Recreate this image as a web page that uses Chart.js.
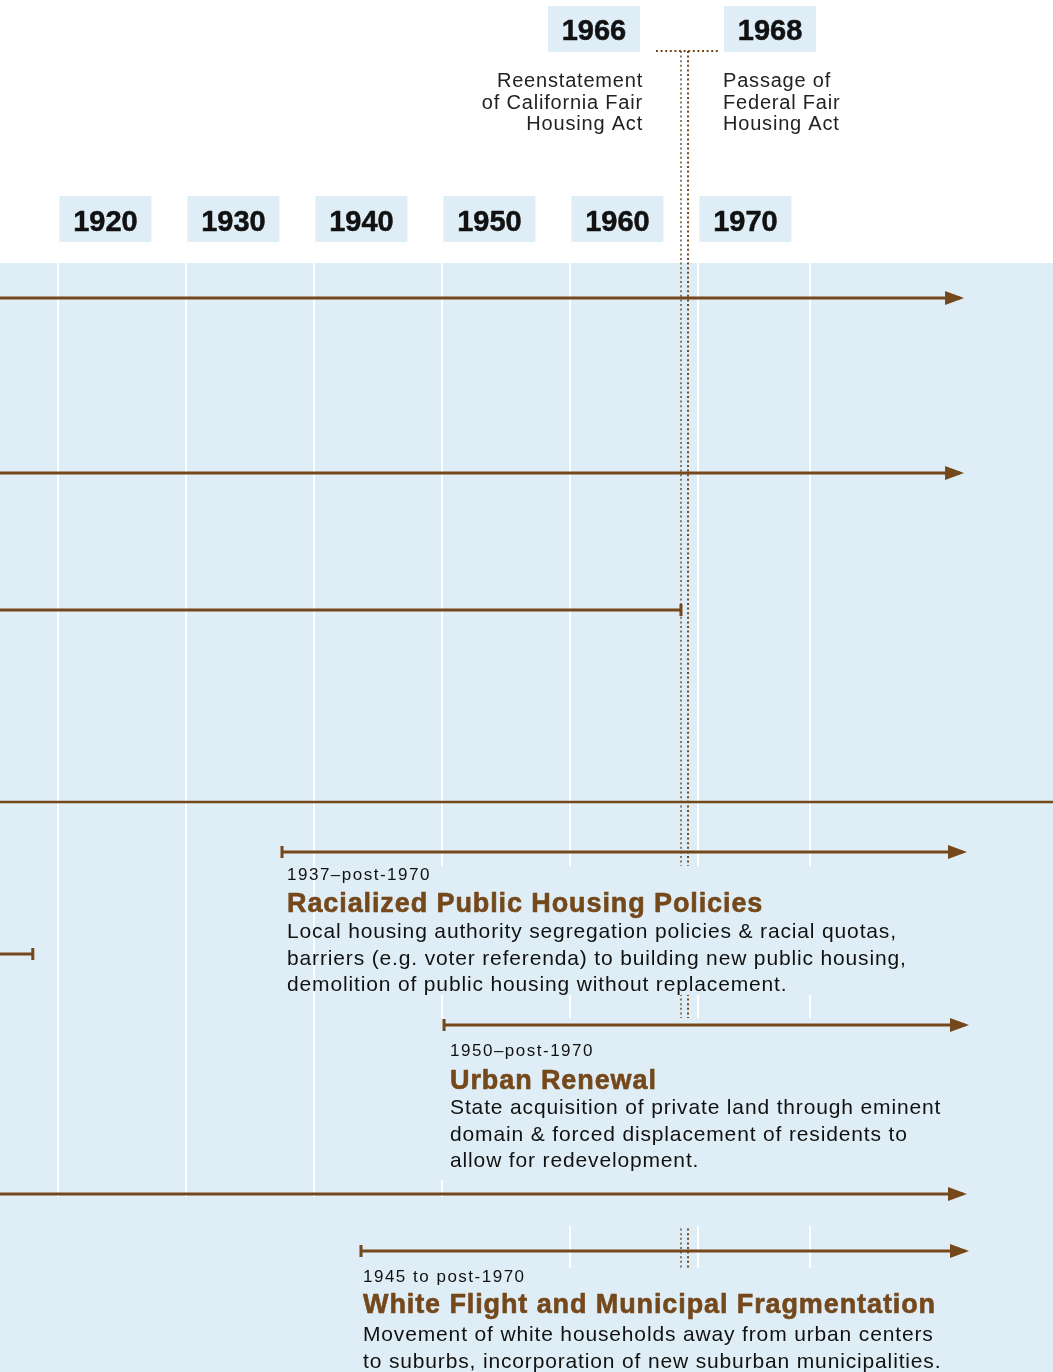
<!DOCTYPE html>
<html><head><meta charset="utf-8">
<script src="https://cdn.jsdelivr.net/npm/chart.js@4.4.1/dist/chart.umd.min.js"></script>
<style>html,body{margin:0;padding:0;background:#fff;}#wrap{width:1053px;height:1372px;}</style>
</head><body><div id="wrap"><canvas id="c" width="1053" height="1372"></canvas></div>
<script>
// ---------------- DATA ----------------
const gridYears = [1920, 1930, 1940, 1950, 1960, 1970, 1978.7];
const decadeYears = [1920, 1930, 1940, 1950, 1960, 1970];
const decadeLabels = ['1920', '1930', '1940', '1950', '1960', '1970'];

const eventLabels = ['1966', '1968'];
const eventPositions = [1968.64, 1969.19];
const eventTexts = [
  ['Reenstatement', 'of California Fair', 'Housing Act'],
  ['Passage of', 'Federal Fair', 'Housing Act']
];

// timeline bars (row = vertical position on the sheet)
const barRows   = [298, 473, 610, 802, 852, 954, 1025, 1194, 1251];
const barStarts = [1900, 1900, 1900, 1900, 1937.47, 1900, 1950.13, 1900, 1943.64];
const barEnds   = [1990.44, 1990.44, 1968.64, 2010, 1990.67, 1918.0, 1990.83, 1990.67, 1990.83];
const barStartCaps = ['none', 'none', 'none', 'none', 'bar', 'none', 'bar', 'none', 'bar'];
const barEndCaps   = ['arrow', 'arrow', 'bar', 'none', 'arrow', 'bar', 'arrow', 'arrow', 'arrow'];

const policyBar = [4, 6, 8];
const policyDates = ['1937\u2013post-1970', '1950\u2013post-1970', '1945 to post-1970'];
const policyTitles = ['Racialized Public Housing Policies', 'Urban Renewal', 'White Flight and Municipal Fragmentation'];
const policyBodies = [
  ['Local housing authority segregation policies & racial quotas,',
   'barriers (e.g. voter referenda) to building new public housing,',
   'demolition of public housing without replacement.'],
  ['State acquisition of private land through eminent',
   'domain & forced displacement of residents to',
   'allow for redevelopment.'],
  ['Movement of white households away from urban centers',
   'to suburbs, incorporation of new suburban municipalities.']
];

// ---------------- STYLE / LAYOUT ----------------
const BROWN = '#74481b';
const BLUE = '#dfeef6';
const INK = '#111111';
const X_MIN = 1915.4375, X_MAX = 1997.703;
const SHEET_H = 1372;
const bandTop = 263;
const yearBox = {top: 196, h: 46, w: 92, font: 'bold 29px "Liberation Sans", Arial, sans-serif'};
const eventBox = {top: 6, h: 46, w: 92};
const dotTop = 51;
// panels that interrupt grid / dotted lines [x0px, y0, x1px, y1]
const panels = [
  [330, 866, 1053, 995],
  [436, 1018, 1053, 1180],
  [500, 1180, 1053, 1226],
  [0, 1197, 500, 1372],
  [500, 1268, 1053, 1372]
];
const textDx = [5, 6, 2];
const textDy = [[28, 60, 86], [31, 64, 89], [31, 62, 90]];
const bodyLH = 26.6;

function heavyText(ctx, s, x, y, w) {
  ctx.lineWidth = w;
  ctx.strokeStyle = ctx.fillStyle;
  ctx.lineJoin = 'round';
  ctx.strokeText(s, x, y);
  ctx.fillText(s, x, y);
}

function capsPlugin() {
  return {
    id: 'timeline',
    beforeDraw(chart) {
      const {ctx, scales: {y}} = chart;
      ctx.save();
      ctx.fillStyle = '#fff';
      ctx.fillRect(0, 0, chart.width, chart.height);
      ctx.fillStyle = BLUE;
      const t = y.getPixelForValue(bandTop);
      ctx.fillRect(0, t, chart.width, chart.height - t);
      ctx.restore();
    },
    beforeDatasetsDraw(chart) {
      const {ctx, scales: {x, y}} = chart;
      ctx.save();
      const p0 = x.getPixelForValue(eventPositions[0]);
      const p1 = x.getPixelForValue(eventPositions[1]);
      const top = y.getPixelForValue(dotTop);
      ctx.lineWidth = 2;
      ctx.setLineDash([2, 2.6]);
      ctx.strokeStyle = 'rgba(110,80,50,0.75)';
      ctx.beginPath(); ctx.moveTo(p0, top); ctx.lineTo(p0, chart.height); ctx.stroke();
      ctx.strokeStyle = BROWN;
      ctx.beginPath(); ctx.moveTo(p1, top); ctx.lineTo(p1, chart.height); ctx.stroke();
      ctx.beginPath(); ctx.moveTo(p0 - 25, top); ctx.lineTo(p1 + 30, top); ctx.stroke();
      ctx.setLineDash([]);
      ctx.fillStyle = BLUE;
      panels.forEach(([a, b, c, d]) => {
        const yb = y.getPixelForValue(b), yd = y.getPixelForValue(d);
        ctx.fillRect(a, yb, c - a, yd - yb);
      });
      ctx.restore();
    },
    afterDatasetsDraw(chart) {
      const {ctx, scales: {x, y}} = chart;
      ctx.save();
      ctx.fillStyle = BROWN;
      barRows.forEach((r, i) => {
        const py = y.getPixelForValue(r);
        const xs = x.getPixelForValue(barStarts[i]);
        const xe = x.getPixelForValue(barEnds[i]);
        if (barStartCaps[i] === 'bar') ctx.fillRect(xs - 1.5, py - 6, 3, 12);
        if (barEndCaps[i] === 'bar') ctx.fillRect(xe - 1.5, py - 6, 3, 12);
        if (barEndCaps[i] === 'arrow') {
          ctx.beginPath();
          ctx.moveTo(xe + 4, py);
          ctx.lineTo(xe - 15, py - 7);
          ctx.lineTo(xe - 15, py + 7);
          ctx.closePath();
          ctx.fill();
        }
      });
      ctx.textAlign = 'center';
      ctx.textBaseline = 'alphabetic';
      decadeYears.forEach((yr, i) => {
        const px = x.getPixelForValue(yr);
        ctx.fillStyle = BLUE;
        ctx.fillRect(px + 1, yearBox.top, yearBox.w, yearBox.h);
        ctx.fillStyle = INK;
        ctx.font = yearBox.font;
        heavyText(ctx, decadeLabels[i], px + 1 + yearBox.w / 2, yearBox.top + 35, 0.5);
      });
      const ep = eventPositions.map(v => x.getPixelForValue(v));
      const boxLeft = [ep[0] - 41 - eventBox.w, ep[1] + 36];
      eventLabels.forEach((lab, i) => {
        ctx.fillStyle = BLUE;
        ctx.fillRect(boxLeft[i], eventBox.top, eventBox.w, eventBox.h);
        ctx.fillStyle = INK;
        ctx.font = yearBox.font;
        ctx.textAlign = 'center';
        heavyText(ctx, lab, boxLeft[i] + eventBox.w / 2, eventBox.top + 34, 0.5);
        ctx.font = '20px "Liberation Sans", Arial, sans-serif';
        ctx.letterSpacing = '0.8px';
        ctx.fillStyle = '#222';
        ctx.textAlign = i === 0 ? 'right' : 'left';
        const tx = i === 0 ? ep[0] - 38 : ep[1] + 35;
        eventTexts[i].forEach((ln, k) => ctx.fillText(ln, tx, 87 + k * 21.7));
        ctx.letterSpacing = '0px';
      });
      ctx.textAlign = 'left';
      policyBar.forEach((bi, i) => {
        const x0 = x.getPixelForValue(barStarts[bi]) + textDx[i];
        const r = y.getPixelForValue(barRows[bi]);
        ctx.fillStyle = INK;
        ctx.font = '17px "Liberation Sans", Arial, sans-serif';
        ctx.letterSpacing = '1.5px';
        ctx.fillText(policyDates[i], x0, r + textDy[i][0]);
        ctx.fillStyle = BROWN;
        ctx.font = 'bold 27px "Liberation Sans", Arial, sans-serif';
        ctx.letterSpacing = '0.9px';
        heavyText(ctx, policyTitles[i], x0, r + textDy[i][1], 0.6);
        ctx.fillStyle = INK;
        ctx.font = '21px "Liberation Sans", Arial, sans-serif';
        ctx.letterSpacing = '0.85px';
        policyBodies[i].forEach((ln, k) => ctx.fillText(ln, x0, r + textDy[i][2] + k * bodyLH));
        ctx.letterSpacing = '0px';
      });
      ctx.restore();
    }
  };
}

const datasets = barRows.map((r, i) => ({
  data: [{x: barStarts[i], y: r}, {x: barEnds[i], y: r}],
  showLine: true,
  borderColor: BROWN,
  backgroundColor: BROWN,
  borderWidth: i === 3 ? 2.5 : 3,
  borderCapStyle: 'butt',
  pointRadius: 0,
  pointHoverRadius: 0
}));

new Chart(document.getElementById('c'), {
  type: 'scatter',
  data: {datasets},
  options: {
    responsive: false,
    devicePixelRatio: 1,
    animation: false,
    events: [],
    layout: {padding: 0},
    plugins: {legend: {display: false}, tooltip: {enabled: false}, title: {display: false}},
    scales: {
      x: {
        type: 'linear', min: X_MIN, max: X_MAX, position: 'top',
        afterBuildTicks: ax => { ax.ticks = gridYears.map(v => ({value: v})); },
        ticks: {display: false},
        grid: {color: '#ffffff', lineWidth: 2, drawTicks: false},
        border: {display: false}
      },
      y: {type: 'linear', min: 0, max: SHEET_H, reverse: true, display: false}
    }
  },
  plugins: [capsPlugin()]
});
</script>
</body></html>
